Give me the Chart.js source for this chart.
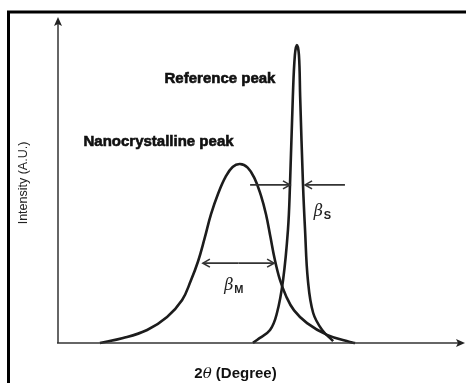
<!DOCTYPE html>
<html>
<head>
<meta charset="utf-8">
<script src="https://cdn.jsdelivr.net/npm/chart.js@4/dist/chart.umd.min.js"></script>
<style>
html,body{margin:0;padding:0;background:#fff;}
#wrap{width:466px;height:383px;position:relative;}
</style>
</head>
<body>
<div id="wrap"><canvas id="c" width="466" height="383"></canvas></div>
<script>
// 2θ positions (arbitrary units) and intensities (A.U.)
const nanoTwoTheta = [10.3, 16.0, 21.9, 26.8, 30.5, 32.6, 34.4, 36.0, 37.6, 39.4, 41.2, 42.9, 44.7, 46.6, 48.3, 49.8, 51.1, 52.2, 53.2, 54.5, 56.0, 58.0, 61.2, 66.1, 71.7, 73.0];
const nanoIntensity = [0, 1.5, 4.0, 8.0, 13.2, 19.0, 25.0, 32.0, 39.5, 46.0, 51.0, 54.0, 54.9, 53.8, 50.5, 45.5, 39.5, 32.5, 26.0, 19.5, 14.5, 10.0, 6.1, 2.5, 0.3, 0];
const refTwoTheta = [47.9, 48.9, 52.1, 53.8, 55.3, 56.5, 57.0, 57.7, 58.2, 58.7, 59.2, 59.5, 60.2, 60.7, 61.4, 62.7, 64.9, 67.6];
const refIntensity = [0, 0.9, 4.0, 9.2, 19.3, 34.7, 48.5, 75.5, 88.3, 91.4, 88.3, 75.5, 48.5, 34.7, 19.3, 9.2, 4.0, 0.6];
// FWHM marker positions (2θ, intensity)
const betaM = {from: 35.6, to: 53.1, level: 24.5};
const betaS = {leftFrom: 47.2, leftTo: 57.0, rightFrom: 70.5, rightTo: 60.7, level: 48.5};
const labels = {
  ref: {text: 'Reference peak', x: 39.8, y: 81.0},
  nano: {text: 'Nanocrystalline peak', x: 24.7, y: 61.7},
  bM: {x: 42.8, y: 17.4},
  bS: {x: 64.8, y: 40.2}
};

function pts(xs, ys){ return xs.map((x,i)=>({x:x, y:ys[i]})); }

const overlay = {
  id: 'overlay',
  afterDraw(chart){
    const ctx = chart.ctx, a = chart.chartArea;
    const X = chart.scales.x, Y = chart.scales.y;
    ctx.save();
    // frame
    ctx.strokeStyle = '#000'; ctx.lineWidth = 3;
    ctx.beginPath(); ctx.moveTo(8.5, 383); ctx.lineTo(8.5, 12); ctx.lineTo(466, 12); ctx.stroke();
    // axes
    ctx.strokeStyle = '#333'; ctx.fillStyle = '#222'; ctx.lineWidth = 1.5;
    const x0 = X.getPixelForValue(0), y0 = Y.getPixelForValue(0);
    ctx.beginPath(); ctx.moveTo(x0, y0); ctx.lineTo(x0, a.top + 4); ctx.stroke();
    ctx.beginPath(); ctx.moveTo(x0 - 1, y0); ctx.lineTo(a.right - 4, y0); ctx.stroke();
    ctx.beginPath(); ctx.moveTo(x0, a.top); ctx.lineTo(x0 - 4, a.top + 9); ctx.lineTo(x0, a.top + 7); ctx.lineTo(x0 + 4, a.top + 9); ctx.closePath(); ctx.fill();
    ctx.beginPath(); ctx.moveTo(a.right, y0); ctx.lineTo(a.right - 9, y0 - 4); ctx.lineTo(a.right - 7, y0); ctx.lineTo(a.right - 9, y0 + 4); ctx.closePath(); ctx.fill();
    // marker arrows
    function arrow(xa, xb, yv){
      const px1 = X.getPixelForValue(xa), px2 = X.getPixelForValue(xb), py = Y.getPixelForValue(yv);
      ctx.strokeStyle = '#333'; ctx.lineWidth = 1.6;
      ctx.beginPath(); ctx.moveTo(px1, py); ctx.lineTo(px2, py); ctx.stroke();
      const d = px2 > px1 ? 1 : -1;
      ctx.beginPath(); ctx.moveTo(px2 - d*7, py - 4); ctx.lineTo(px2, py); ctx.lineTo(px2 - d*7, py + 4); ctx.stroke();
    }
    const mid = (betaM.from + betaM.to)/2;
    arrow(mid, betaM.from, betaM.level);
    arrow(mid, betaM.to, betaM.level);
    arrow(betaS.leftFrom, betaS.leftTo, betaS.level);
    arrow(betaS.rightFrom, betaS.rightTo, betaS.level);
    // labels
    ctx.fillStyle = '#111'; ctx.strokeStyle = '#111'; ctx.lineWidth = 0.6;
    ctx.textBaseline = 'middle'; ctx.textAlign = 'center';
    ctx.font = 'bold 15px "Liberation Sans", Arial, sans-serif';
    [labels.ref, labels.nano].forEach(l => {
      const px = X.getPixelForValue(l.x), py = Y.getPixelForValue(l.y);
      ctx.fillText(l.text, px, py);
      ctx.strokeText(l.text, px, py);
    });
    function beta(lx, ly, sub){
      const px = X.getPixelForValue(lx), py = Y.getPixelForValue(ly);
      ctx.textAlign = 'left';
      ctx.font = 'italic 16px "DejaVu Serif", serif';
      ctx.fillStyle = '#222';
      ctx.fillText('β', px - 8, py);
      ctx.font = 'bold 11px "Liberation Sans", Arial, sans-serif';
      ctx.fillText(sub, px + 2, py + 4);
    }
    beta(labels.bM.x, labels.bM.y, 'M');
    beta(labels.bS.x, labels.bS.y, 'S');
    // axis titles
    ctx.textAlign = 'center'; ctx.fillStyle = '#111';
    const tx = (a.left + a.right)/2 - 26, ty = 374;
    ctx.font = 'bold 15px "Liberation Sans", Arial, sans-serif';
    const w2 = ctx.measureText('2').width;
    ctx.font = 'italic 15px "DejaVu Serif", serif';
    const wt = ctx.measureText('θ').width;
    ctx.font = 'bold 15px "Liberation Sans", Arial, sans-serif';
    const wr = ctx.measureText(' (Degree)').width;
    let sx = tx - (w2 + wt + wr)/2;
    ctx.textAlign = 'left';
    ctx.fillText('2', sx, ty); sx += w2;
    ctx.font = 'italic 15px "DejaVu Serif", serif';
    ctx.fillText('θ', sx, ty); sx += wt;
    ctx.font = 'bold 15px "Liberation Sans", Arial, sans-serif';
    ctx.fillText(' (Degree)', sx, ty);
    ctx.translate(24, 183); ctx.rotate(-Math.PI/2);
    ctx.textAlign = 'center';
    ctx.font = '12.5px "Liberation Sans", Arial, sans-serif';
    ctx.fillStyle = '#222';
    ctx.fillText('Intensity (A.U.)', 0, 0);
    ctx.restore();
  }
};

const lineStyle = {showLine: true, pointRadius: 0, borderColor: '#1c1c1c', backgroundColor: '#1c1c1c', borderWidth: 2.6, tension: 0.4, clip: false};

new Chart(document.getElementById('c'), {
  type: 'scatter',
  data: {
    datasets: [
      Object.assign({label: 'Nanocrystalline peak', data: pts(nanoTwoTheta, nanoIntensity)}, lineStyle),
      Object.assign({label: 'Reference peak', data: pts(refTwoTheta, refIntensity)}, lineStyle)
    ]
  },
  options: {
    responsive: false,
    animation: false,
    layout: {padding: {left: 58, right: 1, top: 17, bottom: 40}},
    scales: {
      x: {type: 'linear', min: 0, max: 100, display: false},
      y: {type: 'linear', min: 0, max: 100, display: false}
    },
    plugins: {legend: {display: false}, tooltip: {enabled: false}}
  },
  plugins: [overlay]
});
</script>
</body>
</html>
